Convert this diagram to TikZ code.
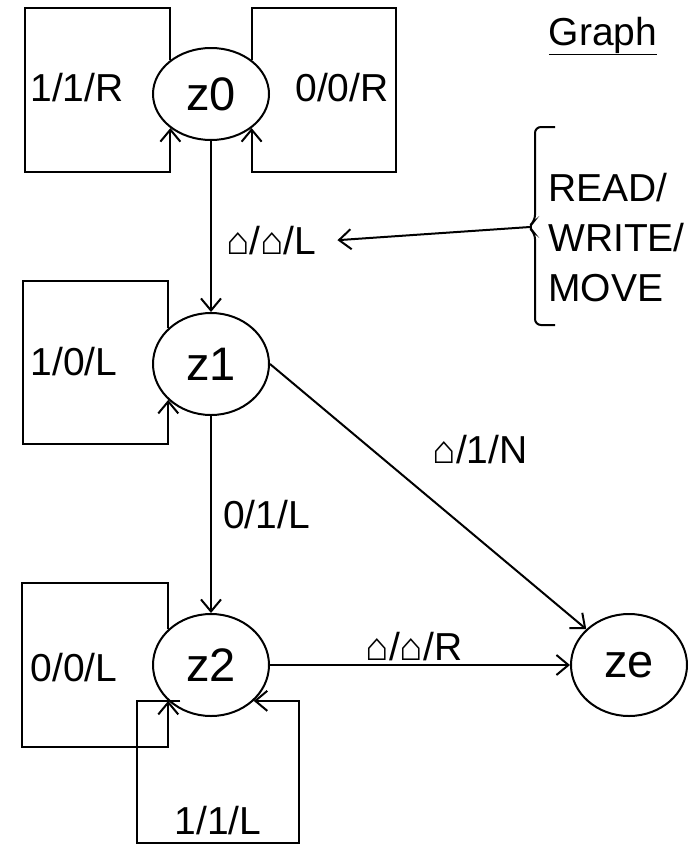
\documentclass[tikz,border=0pt]{standalone}
\usepackage{fontspec}
\setmainfont{Liberation Sans}
\usetikzlibrary{positioning, arrows.meta, shapes.geometric}
\tikzset{
  state/.style={
    draw, ellipse, line width=2pt,
    minimum width=116pt, minimum height=102pt,
    inner sep=0pt, font=\fontsize{47}{54}\selectfont
  },
  lbl/.style={inner sep=0pt, font=\fontsize{39}{47}\selectfont},
  arr/.style={-{Straight Barb[length=12pt, width=20pt, line width=2pt]}, line width=2pt},
  brc/.style={line width=2pt, rounded corners=6pt},
}

\begin{document}
\begin{tikzpicture}[x=1pt, y=-1pt]
    \useasboundingbox (0,0) rectangle (691,846);
    % states
    \node[state, minimum height=92pt] (z0) at (211,94) {z0};
    \node[state, below=171pt of z0]   (z1) {z1};
    \node[state, below=197pt of z1]   (z2) {z2};
    \node[state, right=300pt of z2]   (ze) {ze};
    % loops
    \draw[arr] (z0.140) |- (25,8) -- (25,172) -| (z0.220);
    \draw[arr] (z0.40) |- (396,8) -- (396,172) -| (z0.320);
    \draw[arr] (z1.140) |- (23,281) -- (23,444) -| (z1.220);
    \draw[arr] (z2.140) |- (22,583) -- (22,747) -| (z2.220);
    \coordinate (z2tail) at ([xshift=12pt]z2.220);
    \draw[arr] (z2tail) -| (137,843) -- (299,843) |- (z2.320);
    \node[lbl] (lblRa) at (77,88)   {1/1/R};
    \node[lbl] (lblRb) at (342,88)  {0/0/R};
    \node[lbl] (lblLa) at (74,362)  {1/0/L};
    \node[lbl] (lblLb) at (74,668)  {0/0/L};
    \node[lbl] (lblLc) at (218,821) {1/1/L};
    % transitions
    \draw[arr] (z0) -- node[lbl, pos=0.58, right=14pt] (lblA) {⌂/⌂/L} (z1);
    \draw[arr] (z1) -- node[lbl, pos=0.5, right=11pt] (lblB) {0/1/L} (z2);
    \draw[arr] (z1.east) -- (ze);
    \node[lbl] (lblN) at (480,450) {⌂/1/N};
    \draw[arr] (z2.east) -- node[lbl, pos=0.48, above=3pt] (lblE) {⌂/⌂/R} (ze.west);
    % legend
    \node[lbl, anchor=base] (title) at (603,45) {\underline{Graph}};
    \node[lbl, align=left, anchor=west, font=\fontsize{39}{50}\selectfont] (rwm) at (548,238) {READ/\\WRITE/\\MOVE};
    \draw[brc] (555,127) -- (535,127) -- (535,221) -- (528,227) -- (535,233) -- (535,325) -- (555,325);
    \coordinate (btip) at (530,227);
    \coordinate (hint) at ([xshift=20pt]lblA.east);
    \draw[arr] (btip) -- (hint);
\end{tikzpicture}
\end{document}
